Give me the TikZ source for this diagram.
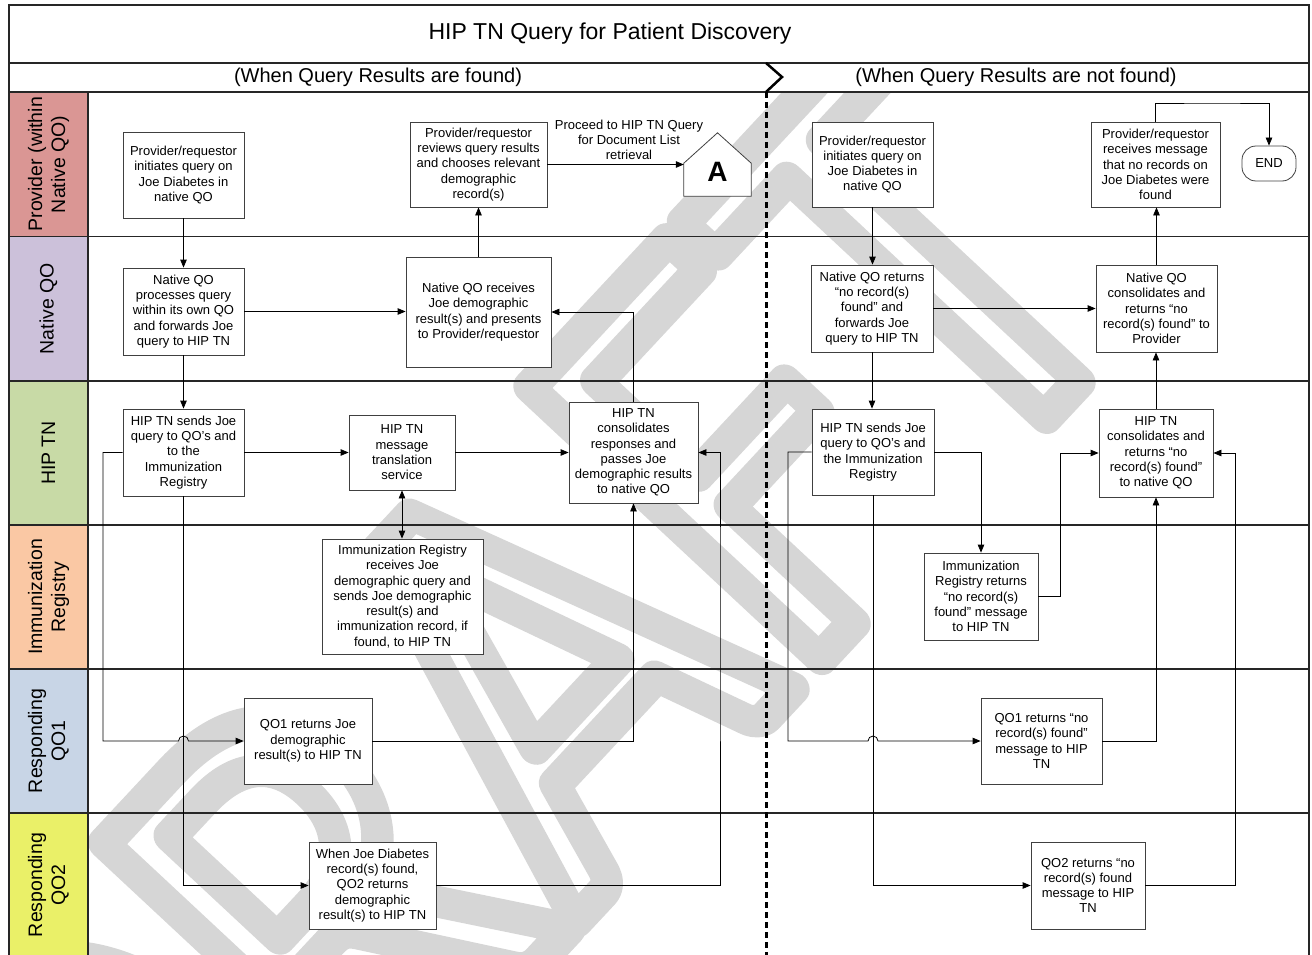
\documentclass[tikz,border=0pt]{standalone}
\usepackage{fontspec}
\setmainfont{Liberation Sans}
\newfontfamily\wmfont{Carlito}
\usetikzlibrary{arrows.meta}
\definecolor{provcol}{RGB}{218,150,148}
\definecolor{nativecol}{RGB}{204,193,218}
\definecolor{hipcol}{RGB}{200,218,166}
\definecolor{immcol}{RGB}{250,200,164}
\definecolor{qoonecol}{RGB}{200,213,230}
\definecolor{qotwocol}{RGB}{234,240,104}

\begin{document}
\begin{tikzpicture}[x=1pt,y=-1pt,
  box/.style={draw=black!75,fill=white,line width=0.8pt,align=center,inner sep=2pt,font=\fontsize{13}{15.3}\selectfont},
  lane/.style={draw=black!85,line width=1.1pt},
  lanelab/.style={rotate=90,align=center,font=\fontsize{19.5}{23}\selectfont},
  arr/.style={-{Triangle[length=8pt,width=6.5pt]},line width=0.8pt},
  dbl/.style={{Triangle[length=8pt,width=6.5pt]}-{Triangle[length=8pt,width=6.5pt]},line width=0.8pt}]
\useasboundingbox (0,0) rectangle (1312,955);
% watermark (outlined letters) behind everything
\begin{scope}
  \clip (88,92) rectangle (1309,955);
  \node[font=\wmfont\fontsize{620}{620}\selectfont,text=black!16,rotate=47,xscale=0.9] (draft) at (499,712)
    {\special{pdf:literal direct 1 Tr 34 w 1 j 1 J}DRAFT\special{pdf:literal direct 0 Tr 1 w}};
\end{scope}
% swimlane labels
\foreach \i/\ya/\yb/\col/\txt in {1/92/236.5/provcol/{Provider (within\\Native QO)},
    2/236.5/381/nativecol/{Native QO}, 3/381/525/hipcol/{HIP TN},
    4/525/669/immcol/{Immunization\\Registry}, 5/669/813/qoonecol/{Responding\\QO1},
    6/813/957/qotwocol/{Responding\\QO2}}{
  \fill[\col] (9,\ya) rectangle (88,\yb);
  \node[lanelab] (lab\i) at (48.5,{(\ya+\yb)/2}) {\txt};
}
% frame and lanes
\draw[lane] (9,957) -- (9,5) -- (1309,5) -- (1309,957);
\foreach \yy in {63,92,236.5,381,525,669,813}
  \draw[lane] (9,\yy) -- (1309,\yy);
\draw[lane] (88,92) -- (88,957);
\draw[line width=3pt,dash pattern=on 6pt off 4pt] (766,92) -- (766,957);
\draw[line width=2.5pt] (766,63) -- (782,77) -- (766,92);
\node[font=\fontsize{23}{26}\selectfont] (title) at (610,34) {HIP TN Query for Patient Discovery};
\node[font=\fontsize{20}{24}\selectfont] (subfound) at (378,77) {(When Query Results are found)};
\node[font=\fontsize{20}{24}\selectfont] (subnone) at (1016,77) {(When Query Results are not found)};

% results found
\node[box,minimum width=121,minimum height=86] (P1) at (183.5,175) {Provider/requestor\\initiates query on\\Joe Diabetes in\\native QO};
\node[box,minimum width=137,minimum height=85] (P2) at (478.5,164.5) {Provider/requestor\\reviews query results\\and chooses relevant\\demographic\\record(s)};
\node[minimum width=67,minimum height=63,inner sep=0] (Abox) at (717.5,164.5) {};
\draw[black!75,line width=0.8pt,fill=white] (Abox.south west) -- ([yshift=33pt]Abox.south west) -- (Abox.north)
  -- ([yshift=33pt]Abox.south east) -- (Abox.south east) -- cycle;
\node[font=\fontsize{28}{28}\selectfont\bfseries] (Aletter) at ([yshift=-7.5pt]Abox.center) {A};
\node[align=center,font=\fontsize{13}{15}\selectfont] (proceed) at (629,140) {Proceed to HIP TN Query\\for Document List\\retrieval};
\node[box,minimum width=121,minimum height=87] (N1) at (183.5,311.5) {Native QO\\processes query\\within its own QO\\and forwards Joe\\query to HIP TN};
\node[box,minimum width=145,minimum height=110] (N2) at (478.5,312) {Native QO receives\\Joe demographic\\result(s) and presents\\to Provider/requestor};
\node[box,minimum width=121,minimum height=87] (H1) at (183.5,452.5) {HIP TN sends Joe\\query to QO’s and\\to the\\Immunization\\Registry};
\node[box,minimum width=106,minimum height=75] (H2) at (402,452.5) {HIP TN\\message\\translation\\service};
\node[box,minimum width=129,minimum height=101] (H3) at (633.5,452.5) {HIP TN\\consolidates\\responses and\\passes Joe\\demographic results\\to native QO};
\node[box,minimum width=161,minimum height=115] (I1) at (402.5,596.5) {Immunization Registry\\receives Joe\\demographic query and\\sends Joe demographic\\result(s) and\\immunization record, if\\found, to HIP TN};
\node[box,minimum width=128,minimum height=86] (Q1) at (308,741) {QO1 returns Joe\\demographic\\result(s) to HIP TN};
\node[box,minimum width=127,minimum height=87] (Q2) at (372.5,885.5) {When Joe Diabetes\\record(s) found,\\QO2 returns\\demographic\\result(s) to HIP TN};
\coordinate (jumpL) at (103,741);
\coordinate (rtL) at (720,600);

\draw[arr] (P1) -- (N1);
\draw[arr] (N1) -- (H1);
\draw[arr] (N1.east) -- (N1.east -| N2.west);
\draw[arr] (N2) -- (P2);
\draw[arr] (P2) -- (Abox);
\draw[arr] (H1) -- (H2);
\draw[arr] (H2) -- (H3);
\draw[dbl] (H2.south) -- (H2.south |- I1.north);
\draw[arr] (H3.north) |- (N2.east);
\draw[arr] (H1.west) -| (jumpL) -- ([xshift=-5pt]H1.south |- Q1.west) arc[start angle=180,end angle=0,radius=5pt] -- (Q1.west);
\draw[arr] (H1.south) |- (Q2.west);
\draw[arr] (Q1.east) -| (H3.south);
\draw[arr] (Q2.east) -| (rtL) |- (H3.east);

% results not found
\node[box,minimum width=121,minimum height=85] (R1) at (872.5,164.5) {Provider/requestor\\initiates query on\\Joe Diabetes in\\native QO};
\node[box,minimum width=129,minimum height=85] (R2) at (1155.5,164.5) {Provider/requestor\\receives message\\that no records on\\Joe Diabetes were\\found};
\node[draw=black!75,line width=0.8pt,rounded corners=14pt,minimum width=54,minimum height=35,font=\fontsize{13}{15}\selectfont] (END) at (1269,163.5) {END};
\node[box,minimum width=122,minimum height=87] (R3) at (872,308.5) {Native QO returns\\“no record(s)\\found” and\\forwards Joe\\query to HIP TN};
\node[box,minimum width=121,minimum height=87] (R4) at (1156.5,308.5) {Native QO\\consolidates and\\returns “no\\record(s) found” to\\Provider};
\node[box,minimum width=122,minimum height=86] (R5) at (873,452) {HIP TN sends Joe\\query to QO’s and\\the Immunization\\Registry};
\node[box,minimum width=114,minimum height=88] (R6) at (1156,453) {HIP TN\\consolidates and\\returns “no\\record(s) found”\\to native QO};
\node[box,minimum width=114,minimum height=87] (R7) at (981,596.5) {Immunization\\Registry returns\\“no record(s)\\found” message\\to HIP TN};
\node[box,minimum width=121,minimum height=86] (R8) at (1041.5,741) {QO1 returns “no\\record(s) found”\\message to HIP\\TN};
\node[box,minimum width=114,minimum height=87] (R9) at (1088,885.5) {QO2 returns “no\\record(s) found\\message to HIP\\TN};
\coordinate (topR) at (1212,103);
\coordinate (jumpR) at (788,741);
\coordinate (rtR) at (1060,520);
\coordinate (rtRR) at (1235,700);

\draw[arr] (R1.south) -- (R1.south |- R3.north);
\draw[arr] (R3) -- (R4);
\draw[arr] (R4.north) -- (R4.north |- R2.south);
\draw[arr] (R2.north) |- (topR) -| (END.north);
\draw[arr] (R3.south) -- (R3.south |- R5.north);
\draw[arr] (R6.north) -- (R6.north |- R4.south);
\draw[arr] (R5.west) -| (jumpR) -- ([xshift=-5pt]R5.south |- R8.west) arc[start angle=180,end angle=0,radius=5pt] -- (R8.west);
\draw[arr] (R5.south) |- (R9.west);
\draw[arr] (R5.east) -| (R7.north);
\draw[arr] (R7.east) -| (rtR) |- (R6.west);
\draw[arr] (R8.east) -| (R6.south);
\draw[arr] (R9.east) -| (rtRR) |- (R6.east);
\end{tikzpicture}
\end{document}
